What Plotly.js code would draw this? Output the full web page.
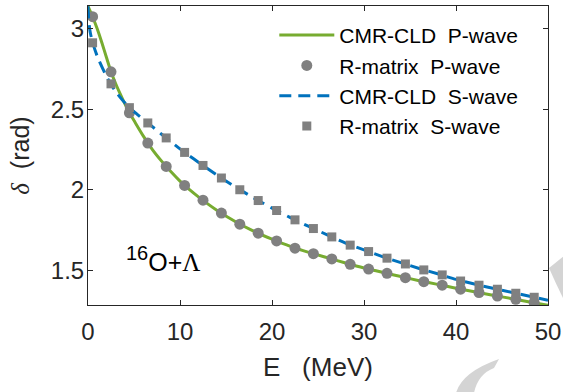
<!DOCTYPE html>
<html>
<head>
<meta charset="utf-8">
<script src="https://cdn.plot.ly/plotly-3.0.1.min.js"></script>
<style>html,body{margin:0;padding:0;background:#fff;}#chart{width:563px;height:392px;}</style>
</head>
<body>
<div id="chart"></div>
<script>
// CMR-CLD P-wave curve
const pCurveE = [0, 0.5, 1, 1.5, 2, 2.5, 3, 3.5, 4, 4.5, 5, 6, 7, 8, 9, 10, 11, 12, 14, 16, 18, 20, 22, 24, 26, 28, 30, 32, 34, 36, 38, 40, 42, 44, 46, 48, 50];
const pCurveDelta = [3.14, 3.075, 3.0, 2.915, 2.823, 2.733, 2.66, 2.595, 2.535, 2.478, 2.43, 2.335, 2.25, 2.178, 2.113, 2.054, 2.002, 1.956, 1.873, 1.803, 1.743, 1.693, 1.648, 1.611, 1.578, 1.545, 1.514, 1.487, 1.461, 1.435, 1.412, 1.388, 1.366, 1.345, 1.324, 1.303, 1.283];
// CMR-CLD S-wave curve
const sCurveE = [0, 0.1, 0.25, 0.5, 1, 1.5, 2, 2.5, 3, 4, 5, 6, 7, 8, 9, 10, 11, 12, 14, 16, 18, 20, 22, 24, 26, 28, 30, 32, 34, 36, 38, 40, 42, 44, 46, 48, 50];
const sCurveDelta = [3.14, 3.04, 2.975, 2.915, 2.83, 2.765, 2.705, 2.655, 2.61, 2.54, 2.485, 2.438, 2.392, 2.345, 2.299, 2.254, 2.212, 2.171, 2.092, 2.018, 1.95, 1.886, 1.827, 1.772, 1.72, 1.669, 1.626, 1.585, 1.547, 1.511, 1.478, 1.443, 1.414, 1.388, 1.363, 1.338, 1.314];
// R-matrix points
const rE = [0.5, 2.5, 4.5, 6.5, 8.5, 10.5, 12.5, 14.5, 16.5, 18.5, 20.5, 22.5, 24.5, 26.5, 28.5, 30.5, 32.5, 34.5, 36.5, 38.5, 40.5, 42.5, 44.5, 46.5, 48.5];
const rP = [3.075, 2.733, 2.478, 2.29, 2.145, 2.027, 1.935, 1.855, 1.786, 1.730, 1.682, 1.637, 1.603, 1.570, 1.537, 1.507, 1.481, 1.454, 1.429, 1.407, 1.382, 1.361, 1.340, 1.319, 1.298];
const rS = [2.913, 2.658, 2.51, 2.415, 2.322, 2.232, 2.151, 2.073, 2.000, 1.933, 1.871, 1.813, 1.759, 1.707, 1.656, 1.616, 1.575, 1.539, 1.502, 1.471, 1.433, 1.407, 1.382, 1.357, 1.332];
const xTicks = [0, 10, 20, 30, 40, 50];
const yTicks = [1.5, 2, 2.5, 3];
const yTickText = ['1.5', '2', '2.5', '3'];

const FONT = 'Liberation Sans, Arial, sans-serif';
const SERIF = 'Liberation Serif, Times New Roman, serif';
const NB = '\u00A0';

const traces = [
  {x: pCurveE, y: pCurveDelta, mode: 'lines', name: 'CMR-CLD' + NB + NB + 'P-wave',
   line: {color: '#77AC30', width: 3, shape: 'spline', smoothing: 0.6}},
  {x: rE, y: rP, mode: 'markers', name: 'R-matrix' + NB + NB + 'P-wave',
   marker: {color: '#808080', size: 11, symbol: 'circle'}},
  {x: sCurveE, y: sCurveDelta, mode: 'lines', name: 'CMR-CLD' + NB + NB + 'S-wave',
   line: {color: '#0072BD', width: 3, dash: '12px,7px', shape: 'spline', smoothing: 0.6}},
  {x: rE, y: rS, mode: 'markers', name: 'R-matrix' + NB + NB + 'S-wave',
   marker: {color: '#808080', size: 9, symbol: 'square'}}
];

const axisCommon = {
  showline: true, mirror: 'ticks', linecolor: '#262626', linewidth: 1,
  ticks: 'inside', ticklen: 5, tickwidth: 1, tickcolor: '#262626',
  showgrid: false, zeroline: false,
  tickfont: {family: FONT, size: 24, color: '#262626'}
};

// decorative light-gray watermark strokes (pixel positions converted to paper coords)
const L = 88, R = 548, T = 6, B = 305;
function px(x) { return ((x - L) / (R - L)).toFixed(4); }
function py(y) { return ((B - y) / (B - T)).toFixed(4); }
function P(x, y) { return px(x) + ',' + py(y); }
const wm1 = 'M' + P(456, 393) + ' Q' + P(462, 372) + ' ' + P(499, 359) +
            ' L' + P(494, 368) + ' Q' + P(478, 374) + ' ' + P(474, 393) + ' Z';
const wm2 = 'M' + P(549, 268) + ' L' + P(564, 256) + ' L' + P(564, 300) +
            ' Q' + P(556, 284) + ' ' + P(549, 268) + ' Z';

const layout = {
  width: 563, height: 392,
  margin: {l: 88, r: 15, t: 6, b: 87},
  paper_bgcolor: '#ffffff', plot_bgcolor: '#ffffff',
  showlegend: true,
  legend: {x: 0.405, y: 0.97, xanchor: 'left', yanchor: 'top', bgcolor: 'rgba(255,255,255,0)',
           font: {family: FONT, size: 21, color: '#000000'}, itemwidth: 55, tracegroupgap: 0},
  xaxis: Object.assign({}, axisCommon, {
    range: [0, 50], tickvals: xTicks, ticklabelstandoff: 5,
    title: {text: 'E' + NB + NB + NB + '(MeV)', font: {family: FONT, size: 26, color: '#262626'}, standoff: 14}
  }),
  yaxis: Object.assign({}, axisCommon, {
    range: [1.284, 3.1416], tickvals: yTicks, ticktext: yTickText, ticklabelstandoff: -2,
    title: {text: '<span style="font-family:' + SERIF + '"><i>δ</i></span>' + NB + NB + '(rad)',
            font: {family: FONT, size: 25, color: '#262626'}, standoff: 14}
  }),
  shapes: [
    {type: 'path', xref: 'paper', yref: 'paper', path: wm1, fillcolor: '#d4d4d4', line: {width: 0}, layer: 'above'},
    {type: 'path', xref: 'paper', yref: 'paper', path: wm2, fillcolor: '#d4d4d4', line: {width: 0}, layer: 'above'}
  ],
  annotations: [{
    x: 3.9, y: 1.57, xref: 'x', yref: 'y', xanchor: 'left', yanchor: 'middle', showarrow: false,
    text: '<sup><span style="font-size:20px">16</span></sup>O+<span style="font-family:' + SERIF + '">Λ</span>',
    font: {family: FONT, size: 25, color: '#000000'}
  }]
};

Plotly.newPlot('chart', traces, layout, {staticPlot: true, displayModeBar: false});
</script>
</body>
</html>
